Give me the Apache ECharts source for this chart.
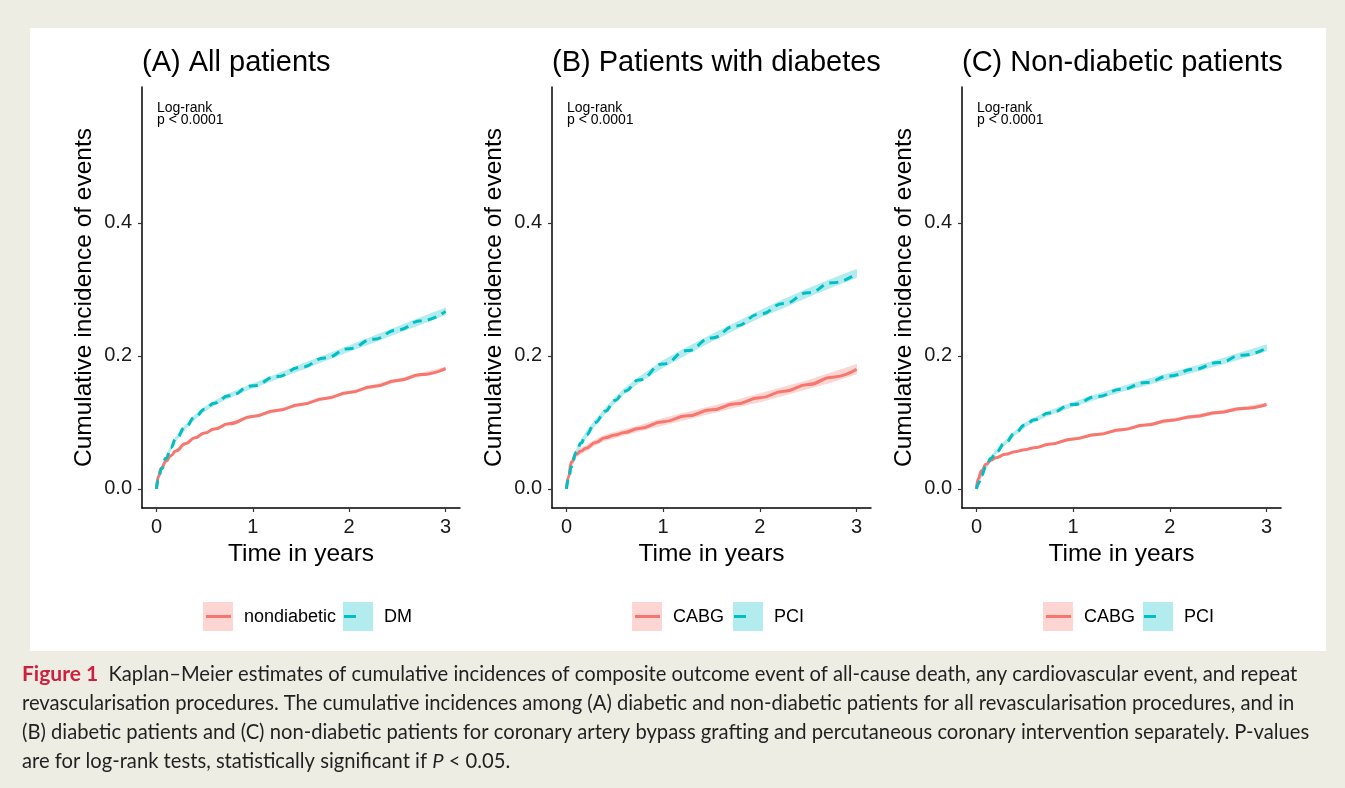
<!DOCTYPE html>
<html>
<head>
<meta charset="utf-8">
<script src="https://cdn.jsdelivr.net/npm/echarts@6/dist/echarts.min.js"></script>
<style>
html, body { margin: 0; padding: 0; background: #eeede3; }
#panel { position: absolute; left: 30px; top: 28px; width: 1296px; height: 623px; background: #ffffff; }
#main { position: absolute; left: 0; top: 0; width: 1345px; height: 788px; }
</style>
</head>
<body>
<div id="panel"></div>
<div id="main"></div>
<script>
// time grid (years)
var years = [0, 0.02, 0.05, 0.1, 0.15, 0.2, 0.3, 0.4, 0.5, 0.6, 0.75, 1, 1.25, 1.5, 1.75, 2, 2.25, 2.5, 2.75, 3];

// (A) all patients
var allNondiabetic = [0, 0.019, 0.031, 0.042, 0.050, 0.057, 0.068, 0.077, 0.084, 0.090, 0.098, 0.109, 0.118, 0.127, 0.136, 0.145, 0.154, 0.163, 0.172, 0.181];
var allNondiabeticCI = [0, 0.001, 0.001, 0.001, 0.001, 0.001, 0.001, 0.001, 0.001, 0.001, 0.001, 0.001, 0.0015, 0.0015, 0.0015, 0.0015, 0.002, 0.002, 0.002, 0.002];
var allDM = [0, 0.013, 0.030, 0.046, 0.062, 0.075, 0.093, 0.108, 0.120, 0.129, 0.140, 0.155, 0.169, 0.183, 0.197, 0.211, 0.225, 0.239, 0.253, 0.267];
var allDMCI = [0, 0.002, 0.002, 0.003, 0.003, 0.003, 0.003, 0.003, 0.003, 0.003, 0.003, 0.003, 0.0035, 0.004, 0.004, 0.004, 0.0045, 0.0045, 0.005, 0.005];

// (B) patients with diabetes
var dmCABG = [0, 0.018, 0.040, 0.052, 0.057, 0.061, 0.070, 0.077, 0.081, 0.085, 0.091, 0.101, 0.110, 0.119, 0.128, 0.137, 0.147, 0.157, 0.168, 0.180];
var dmCABGCI = [0, 0.003, 0.004, 0.004, 0.004, 0.004, 0.004, 0.004, 0.004, 0.004, 0.004, 0.005, 0.005, 0.005, 0.005, 0.006, 0.006, 0.006, 0.007, 0.007];
var dmPCI = [0, 0.014, 0.033, 0.055, 0.069, 0.081, 0.100, 0.117, 0.133, 0.147, 0.164, 0.188, 0.208, 0.227, 0.245, 0.263, 0.279, 0.295, 0.310, 0.324];
var dmPCICI = [0, 0.002, 0.003, 0.003, 0.004, 0.004, 0.004, 0.004, 0.004, 0.004, 0.004, 0.005, 0.005, 0.005, 0.005, 0.005, 0.006, 0.006, 0.006, 0.006];

// (C) non-diabetic patients
var ndCABG = [0, 0.016, 0.027, 0.037, 0.043, 0.047, 0.052, 0.056, 0.059, 0.062, 0.067, 0.075, 0.082, 0.089, 0.096, 0.103, 0.109, 0.115, 0.121, 0.127];
var ndCABGCI = [0, 0.001, 0.001, 0.001, 0.001, 0.001, 0.001, 0.001, 0.001, 0.001, 0.001, 0.0015, 0.0015, 0.0015, 0.0015, 0.002, 0.002, 0.002, 0.002, 0.002];
var ndPCI = [0, 0.008, 0.020, 0.034, 0.046, 0.055, 0.070, 0.084, 0.096, 0.104, 0.114, 0.127, 0.139, 0.150, 0.160, 0.170, 0.180, 0.190, 0.201, 0.212];
var ndPCICI = [0, 0.002, 0.002, 0.002, 0.003, 0.003, 0.003, 0.003, 0.003, 0.003, 0.003, 0.003, 0.0035, 0.0035, 0.004, 0.004, 0.004, 0.004, 0.0045, 0.0045];

var xTicks = [0, 1, 2, 3];
var yTicks = [0, 0.2, 0.4];

var panelTitles = ['(A) All patients', '(B) Patients with diabetes', '(C) Non-diabetic patients'];
var groupNames = [['nondiabetic', 'DM'], ['CABG', 'PCI'], ['CABG', 'PCI']];
var pText = 'Log-rank\np < 0.0001';

var RED = '#F8766D', TEAL = '#00BFC4';
var RED_FILL = '#fdd6d3', TEAL_FILL = '#b3ecee';
var FONT = '"Liberation Sans", Arial, Helvetica, sans-serif';

var chart = echarts.init(document.getElementById('main'), null, { renderer: 'canvas' });

var gridLefts = [142, 552, 962];

var grids = [], xAxes = [], yAxes = [], series = [], titles = [], graphics = [];

gridLefts.forEach(function (left, k) {
  grids.push({ left: left, top: 87, width: k === 0 ? 318 : 319, height: 421 });
  xAxes.push({
    gridIndex: k, type: 'value', min: -0.15, max: 3.15,
    name: 'Time in years', nameLocation: 'middle', nameGap: 34,
    nameTextStyle: { fontFamily: FONT, fontSize: 24.5, color: '#000' },
    axisLine: { onZero: false, lineStyle: { color: '#000', width: 1.5 } },
    axisTick: { customValues: xTicks, length: 4, lineStyle: { color: '#333', width: 1.2 } },
    axisLabel: { customValues: xTicks, margin: 9, fontFamily: FONT, fontSize: 20, color: '#1a1a1a',
      formatter: function (v) { return String(Math.round(v)); } },
    splitLine: { show: false }
  });
  yAxes.push({
    gridIndex: k, type: 'value', min: -0.0287, max: 0.6045,
    name: 'Cumulative incidence of events', nameLocation: 'middle', nameGap: 45, nameRotate: 90,
    nameTextStyle: { fontFamily: FONT, fontSize: 24.5, color: '#000' },
    axisLine: { show: true, onZero: false, lineStyle: { color: '#000', width: 1.5 } },
    axisTick: { show: true, customValues: yTicks, length: 4, lineStyle: { color: '#333', width: 1.2 } },
    axisLabel: { customValues: yTicks, margin: 10, fontFamily: FONT, fontSize: 20, color: '#1a1a1a',
      formatter: function (v) { return v.toFixed(1); } },
    splitLine: { show: false }
  });
  titles.push({
    text: panelTitles[k], left: left - 5, top: 43,
    textStyle: { fontFamily: FONT, fontSize: 29, fontWeight: 'normal', color: '#000' }
  });
  graphics.push({
    type: 'text', left: left + 15, top: 101,
    style: { text: pText, fontFamily: FONT, fontSize: 14, lineHeight: 12, fill: '#000' }
  });
});

function band(k, mid, half, fill) {
  return {
    type: 'custom', xAxisIndex: k, yAxisIndex: k, silent: true, z: 1,
    data: [[0, 0]],
    renderItem: function (params, api) {
      var pts = [];
      for (var i = 0; i < years.length; i++) pts.push(api.coord([years[i], mid[i] + half[i]]));
      for (var j = years.length - 1; j >= 0; j--) pts.push(api.coord([years[j], mid[j] - half[j]]));
      return { type: 'polygon', shape: { points: pts }, style: { fill: fill, stroke: fill, lineWidth: 1 } };
    }
  };
}

function curve(k, name, vals, color, dashed) {
  return {
    type: 'line', name: name, xAxisIndex: k, yAxisIndex: k, z: 3,
    data: years.map(function (t, i) { return [t, vals[i]]; }),
    smooth: 0.5, smoothMonotone: 'x', showSymbol: false, silent: true,
    lineStyle: { color: color, width: 3, type: dashed ? [9, 6] : 'solid', cap: 'butt' }
  };
}

var panelData = [
  [allNondiabetic, allNondiabeticCI, allDM, allDMCI],
  [dmCABG, dmCABGCI, dmPCI, dmPCICI],
  [ndCABG, ndCABGCI, ndPCI, ndPCICI]
];

panelData.forEach(function (d, k) {
  series.push(band(k, d[0], d[1], RED_FILL));
  series.push(band(k, d[2], d[3], TEAL_FILL));
  series.push(curve(k, groupNames[k][0], d[0], RED, false));
  series.push(curve(k, groupNames[k][1], d[2], TEAL, true));
});

// legend keys drawn by hand (ribbon fill + line)
var legendPos = [[203, 343], [632, 733], [1043, 1143]];
function legendItem(x, label, color, fill, dashed) {
  return [
    { type: 'rect', shape: { x: x, y: 602, width: 30, height: 29 }, style: { fill: fill } },
    { type: 'line', shape: dashed ? { x1: x + 1, y1: 616.5, x2: x + 13, y2: 616.5 } : { x1: x + 3, y1: 616.5, x2: x + 28, y2: 616.5 },
      style: { stroke: color, lineWidth: 3 } },
    { type: 'text', x: x + 41, y: 617, style: { text: label, fontFamily: FONT, fontSize: 18, fill: '#000', verticalAlign: 'middle' } }
  ];
}
legendPos.forEach(function (p, k) {
  graphics = graphics.concat(legendItem(p[0], groupNames[k][0], RED, RED_FILL, false));
  graphics = graphics.concat(legendItem(p[1], groupNames[k][1], TEAL, TEAL_FILL, true));
});

// caption
var CAP = 'Lato, "Open Sans", sans-serif';
var captionLines = [
  '{fig|Figure 1}  Kaplan–Meier estimates of cumulative incidences of composite outcome event of all-cause death, any cardiovascular event, and repeat',
  'revascularisation procedures. The cumulative incidences among (A) diabetic and non-diabetic patients for all revascularisation procedures, and in',
  '(B) diabetic patients and (C) non-diabetic patients for coronary artery bypass grafting and percutaneous coronary intervention separately. P-values',
  'are for log-rank tests, statistically significant if {it|P} < 0.05.'
];
captionLines.forEach(function (line, i) {
  graphics.push({
    type: 'text', x: 22, y: 674 + i * 29,
    style: {
      text: line, fontFamily: CAP, fontSize: 20.2, fill: '#231f20', verticalAlign: 'middle',
      rich: {
        fig: { fontFamily: CAP, fontSize: 21, fontWeight: 'bold', fill: '#d01f3c', verticalAlign: 'middle' },
        it: { fontFamily: CAP, fontSize: 20.2, fontStyle: 'italic', fill: '#231f20', verticalAlign: 'middle' }
      }
    }
  });
});

var option = {
  backgroundColor: 'transparent',
  animation: false,
  title: titles,
  grid: grids,
  xAxis: xAxes,
  yAxis: yAxes,
  series: series,
  graphic: { elements: graphics }
};

chart.setOption(option);
</script>
</body>
</html>
